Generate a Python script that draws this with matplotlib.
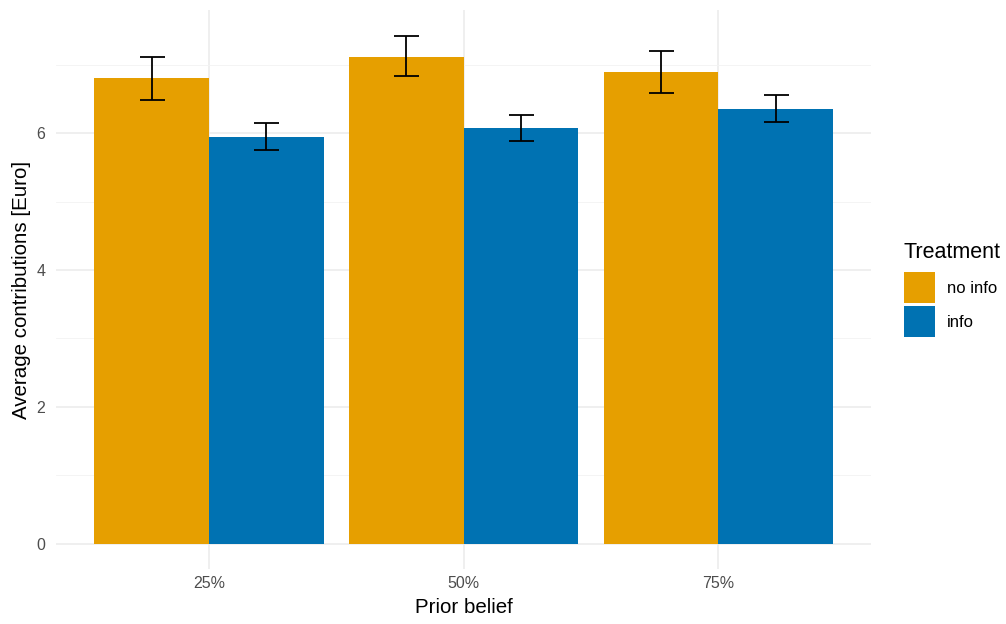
import matplotlib
matplotlib.use("Agg")
import matplotlib.pyplot as plt
import numpy as np
from matplotlib.patches import Patch

# Data
beliefs = ["25%", "50%", "75%"]
treatments = ["no info", "info"]
mean_noinfo = [6.80, 7.12, 6.89]
mean_info = [5.94, 6.07, 6.35]
lo_noinfo = [6.48, 6.83, 6.58]
hi_noinfo = [7.11, 7.42, 7.20]
lo_info = [5.75, 5.88, 6.16]
hi_info = [6.15, 6.27, 6.56]
colors = ["#E69F00", "#0072B2"]

plt.rcParams["font.family"] = ["Liberation Sans", "DejaVu Sans"]

fig = plt.figure(figsize=(10.06, 6.24), dpi=100)
W, H = 1006, 624
left, right, top, bottom = 56.3, 871, 10, 569
ax = fig.add_axes([left / W, 1 - bottom / H, (right - left) / W, (bottom - top) / H])

x = np.arange(1, len(beliefs) + 1)
bw = 0.45
means = [mean_noinfo, mean_info]
los = [lo_noinfo, lo_info]
his = [hi_noinfo, hi_info]
for i, (m, lo, hi, c) in enumerate(zip(means, los, his, colors)):
    pos = x + (i - 0.5) * bw
    ax.bar(pos, m, width=bw, color=c, zorder=2, linewidth=0)
    m = np.array(m)
    yerr = [m - np.array(lo), np.array(hi) - m]
    ax.errorbar(pos, m, yerr=yerr, fmt="none", ecolor="black",
                elinewidth=1.3, capsize=9, capthick=1.3, zorder=3)

ymin, ymax = -0.37, 7.80
ax.set_xlim(0.4, 3.6)
ax.set_ylim(ymin, ymax)

ax.set_yticks([0, 2, 4, 6])
ax.set_yticks([1, 3, 5, 7], minor=True)
ax.set_xticks(x)
ax.set_xticklabels(beliefs)

ax.grid(which="major", color="#EBEBEB", linewidth=1.1, zorder=0)
ax.grid(which="minor", axis="y", color="#F3F3F3", linewidth=0.6, zorder=0)
ax.set_axisbelow(True)
for s in ax.spines.values():
    s.set_visible(False)
ax.tick_params(axis="both", which="both", length=0, labelsize=11.5,
               labelcolor="#4D4D4D", pad=5)
ax.tick_params(axis="y", pad=8)

ax.set_xlabel("Prior belief", fontsize=14.8, color="black", labelpad=5)
ax.set_ylabel("Average contributions [Euro]", fontsize=14.8, color="black", labelpad=4)

# Legend: title placed as its own text, keys below it
fig.text(903 / W, 1 - 258 / H, "Treatment", fontsize=15.5, ha="left",
         va="baseline", color="black")
handles = [Patch(facecolor=c, edgecolor="none", label=t) for c, t in zip(colors, treatments)]
leg = fig.legend(handles=handles, loc="upper left",
                 bbox_to_anchor=(904 / W, 1 - 272 / H), frameon=False,
                 fontsize=12, handlelength=1.86,
                 handleheight=2.485, labelspacing=0.18, handletextpad=0.7,
                 borderaxespad=0, borderpad=0)

fig.savefig("out.png", dpi=100)
